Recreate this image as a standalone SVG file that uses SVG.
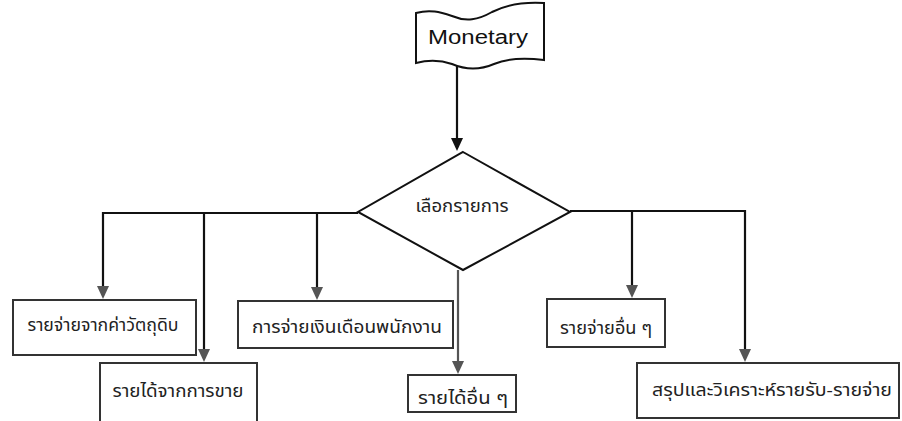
<svg xmlns="http://www.w3.org/2000/svg" width="902" height="421" viewBox="0 0 902 421">
<style>
.box{fill:#fff;stroke:#333;stroke-width:2}
.ln{fill:none;stroke:#111;stroke-width:2.2}
.lg{fill:none;stroke:#555;stroke-width:2.2}
.th{font-family:"Noto Sans Thai","Loma","Garuda","Tlwg Typo","Norasi","Noto Sans","DejaVu Sans",sans-serif;font-size:17px;fill:#222;text-anchor:middle}
.mon{font-family:"Liberation Sans",Arial,sans-serif;font-size:20px;fill:#111;text-anchor:middle}
</style>
<defs>
<marker id="ah" viewBox="0 0 10 10" refX="10" refY="5" markerWidth="6" markerHeight="6" markerUnits="userSpaceOnUse" orient="auto">
<path d="M0,0 L10,5 L0,10 Z" fill="#555"/>
</marker>
<marker id="ahb" viewBox="0 0 10 10" refX="10" refY="5" markerWidth="6" markerHeight="6" markerUnits="userSpaceOnUse" orient="auto">
<path d="M0,0 L10,5 L0,10 Z" fill="#111"/>
</marker>
</defs>
<rect width="902" height="421" fill="#fff"/>
<g id="connectors">
<path class="ln" d="M457,62 V138" />
<path d="M451,138 L463,138 L457,151 Z" fill="#111"/>
<path class="ln" d="M358,213 H103 V286"/>
<path d="M97,286 L109,286 L103,299 Z" fill="#555"/>
<path class="ln" d="M204,213 V349"/>
<path d="M198,349 L210,349 L204,362 Z" fill="#555"/>
<path class="ln" d="M317,213 V287"/>
<path d="M311,287 L323,287 L317,300 Z" fill="#555"/>
<path class="lg" d="M458,270 V361"/>
<path d="M452,361 L464,361 L458,374 Z" fill="#555"/>
<path class="ln" d="M570,211 H745 V349"/>
<path d="M739,349 L751,349 L745,362 Z" fill="#555"/>
<path class="ln" d="M632,211 V285"/>
<path d="M626,285 L638,285 L632,298 Z" fill="#555"/>
</g>
<g id="monetary">
<path d="M416,13 C430,9 440,12 452,16 C466,22 478,20 492,12 C508,4 528,2 544,3 V60 C528,58 508,58 494,64 C480,70 466,70 452,64 C440,60 428,60 416,63 Z" fill="#fff" stroke="#111" stroke-width="2"/>
<text class="mon" x="478" y="44" textLength="100" lengthAdjust="spacingAndGlyphs">Monetary</text>
</g>
<g id="decision">
<polygon points="463,152 570,212 463,270 358,212" fill="#fff" stroke="#111" stroke-width="2"/>
<text class="th" x="462" y="212" textLength="93" lengthAdjust="spacingAndGlyphs">เลือกรายการ</text>
</g>
<g id="n1">
<rect class="box" x="13" y="300" width="183" height="55"/>
<text class="th" x="103" y="331" textLength="151" lengthAdjust="spacingAndGlyphs">รายจ่ายจากค่าวัตถุดิบ</text>
</g>
<g id="n2">
<rect class="box" x="100" y="363" width="157" height="62"/>
<text class="th" x="178" y="397" textLength="131" lengthAdjust="spacingAndGlyphs">รายได้จากการขาย</text>
</g>
<g id="n3">
<rect class="box" x="238" y="301" width="215" height="47"/>
<text class="th" x="347" y="333" textLength="190" lengthAdjust="spacingAndGlyphs">การจ่ายเงินเดือนพนักงาน</text>
</g>
<g id="n4">
<rect class="box" x="408" y="375" width="108" height="37"/>
<text class="th" x="463" y="404" textLength="90" lengthAdjust="spacingAndGlyphs">รายได้อื่น ๆ</text>
</g>
<g id="n5">
<rect class="box" x="547" y="299" width="118" height="48"/>
<text class="th" x="606" y="334" textLength="92" lengthAdjust="spacingAndGlyphs">รายจ่ายอื่น ๆ</text>
</g>
<g id="n6">
<rect class="box" x="637" y="363" width="262" height="55"/>
<text class="th" x="772" y="396" textLength="240" lengthAdjust="spacingAndGlyphs">สรุปและวิเคราะห์รายรับ-รายจ่าย</text>
</g>
</svg>
